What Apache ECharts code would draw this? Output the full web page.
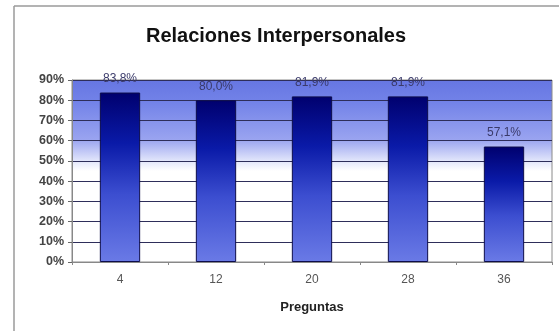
<!DOCTYPE html>
<html>
<head>
<meta charset="utf-8">
<script src="https://cdn.jsdelivr.net/npm/echarts@6/dist/echarts.min.js"></script>
<style>
  html, body { margin: 0; padding: 0; background: #fff; }
  #chart { width: 559px; height: 331px; }
</style>
</head>
<body>
<div id="chart"></div>
<script>
// Preguntas del bloque "Relaciones Interpersonales"
const categories = ['4', '12', '20', '28', '36'];
const values = [83.8, 80.0, 81.9, 81.9, 57.1];
const yTicks = [0, 10, 20, 30, 40, 50, 60, 70, 80, 90];

const chart = echarts.init(document.getElementById('chart'), null, { renderer: 'canvas' });

const fmt = v => v.toFixed(1).replace('.', ',') + '%';

chart.setOption({
  animation: false,
  backgroundColor: '#fff',
  title: {
    text: 'Relaciones Interpersonales',
    left: 271,
    textAlign: 'center',
    top: 21,
    textStyle: { fontFamily: 'Liberation Sans, Arial', fontSize: 20, fontWeight: 'bold', color: '#111' }
  },
  graphic: [
    { type: 'line', shape: { x1: 14, y1: 6, x2: 559, y2: 6 }, style: { stroke: '#9a9a9a', lineWidth: 1.5 } },
    { type: 'line', shape: { x1: 14, y1: 6, x2: 14, y2: 331 }, style: { stroke: '#9a9a9a', lineWidth: 1.5 } }
  ],
  grid: {
    left: 72, right: 7, top: 80, bottom: 69,
    show: true,
    borderColor: '#8a8a8a',
    borderWidth: 1,
    backgroundColor: {
      type: 'linear', x: 0, y: 0, x2: 0, y2: 1,
      colorStops: [
        { offset: 0, color: '#6676e2' },
        { offset: 0.12, color: '#7282e8' },
        { offset: 0.33, color: '#9aa4f0' },
        { offset: 0.44, color: '#dfe3fa' },
        { offset: 0.5, color: '#ffffff' },
        { offset: 1, color: '#ffffff' }
      ]
    }
  },
  xAxis: {
    type: 'category',
    data: categories,
    name: 'Preguntas',
    nameLocation: 'middle',
    nameGap: 39,
    nameTextStyle: { fontFamily: 'Liberation Sans, Arial', fontSize: 13, fontWeight: 'bold', color: '#222' },
    axisLine: { lineStyle: { color: '#888' } },
    axisTick: { show: true, length: 3, lineStyle: { color: '#888' } },
    axisLabel: { margin: 12, fontFamily: 'Liberation Sans, Arial', fontSize: 12, color: '#555' }
  },
  yAxis: {
    type: 'value',
    min: 0, max: 90, interval: 10,
    axisLine: { show: true, lineStyle: { color: '#888' } },
    axisTick: { show: true, length: 4, lineStyle: { color: '#666' } },
    axisLabel: {
      margin: 8,
      fontFamily: 'Liberation Sans, Arial', fontSize: 12.5, fontWeight: 'bold', color: '#444',
      formatter: v => yTicks.includes(v) ? v + '%' : ''
    },
    splitLine: { lineStyle: { color: '#2e2e5a', width: 1 } }
  },
  series: [{
    type: 'bar',
    data: values,
    barWidth: '42%',
    itemStyle: {
      borderColor: '#0d0d4a',
      borderWidth: 1,
      color: {
        type: 'linear', x: 0, y: 0, x2: 0, y2: 1,
        colorStops: [
          { offset: 0, color: '#00006e' },
          { offset: 0.3, color: '#0a1aa8' },
          { offset: 0.6, color: '#3c4ed0' },
          { offset: 1, color: '#6a7ae6' }
        ]
      }
    },
    label: {
      show: true,
      position: 'top',
      distance: 8,
      fontFamily: 'Liberation Sans, Arial',
      fontSize: 12,
      color: '#3a3a6a',
      formatter: p => fmt(p.value)
    }
  }]
});
</script>
</body>
</html>
